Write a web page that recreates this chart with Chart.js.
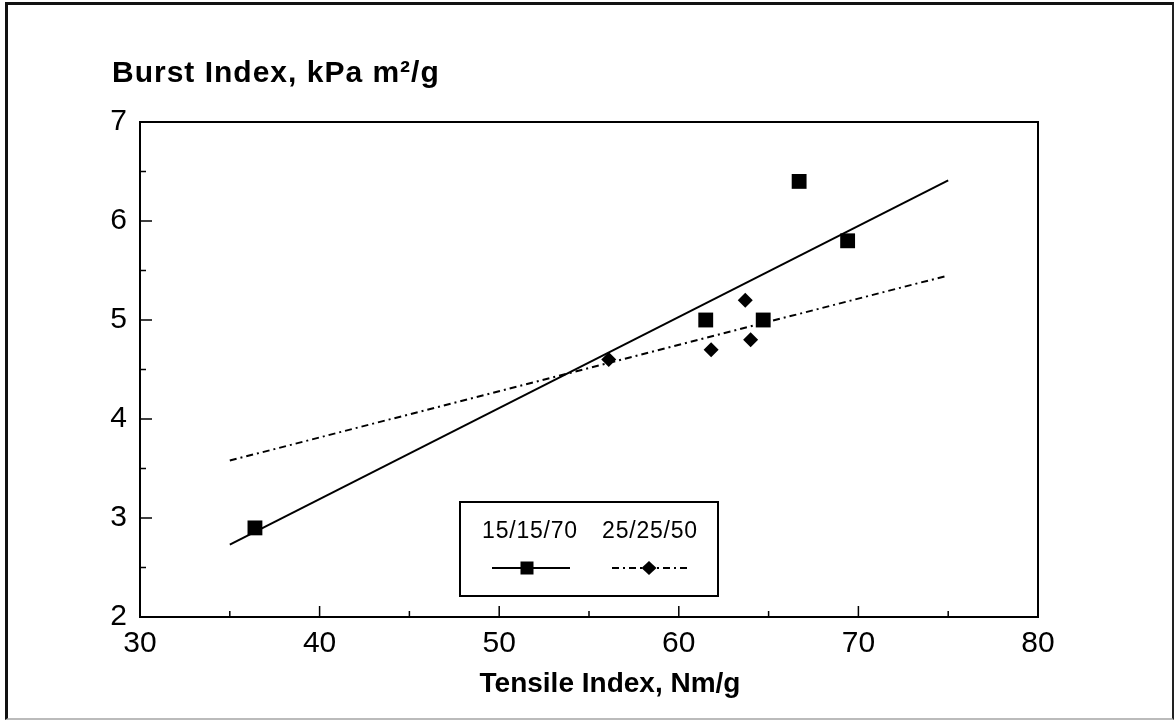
<!DOCTYPE html>
<html>
<head>
<meta charset="utf-8">
<script src="https://cdn.jsdelivr.net/npm/chart.js@4/dist/chart.umd.min.js"></script>
<style>
  html, body { margin: 0; padding: 0; background: #fff; }
  #frame {
    position: absolute; left: 5px; top: 2px; width: 1164px; height: 713px;
    border-top: 3px solid #111; border-left: 3px solid #111;
    border-right: 2px solid #222; border-bottom: 2px solid #bbb;
  }
  #chart { position: absolute; left: 0; top: 0; }
</style>
</head>
<body>
<div id="frame"></div>
<canvas id="chart" width="1174" height="720"></canvas>
<script>
// series
const seriesNames = ["15/15/70", "25/25/50"];
const tensileA = [36.4, 61.5, 64.7, 66.7, 69.4];
const burstA = [2.9, 5.0, 5.0, 6.4, 5.8];
const tensileB = [56.1, 61.8, 63.7, 64.0];
const burstB = [4.6, 4.7, 5.2, 4.8];

// fitted lines (end points)
const fitX = [35, 75];
const fitA = [2.73, 6.41];
const fitB = [3.58, 5.45];

// axes
const xTicks = [30, 40, 50, 60, 70, 80];
const yTicks = [2, 3, 4, 5, 6, 7];
const xTitle = "Tensile Index, Nm/g";
const yTitle = "Burst Index, kPa m²/g";

const FONT = "'Liberation Sans', Arial, sans-serif";
const DASH = [7, 4, 2, 4];

const pts = (xs, ys) => xs.map((x, i) => ({ x: x, y: ys[i] }));

// box round the plot, inward ticks, titles, legend
const decor = {
  id: "decor",
  afterDatasetsDraw: (chart) => {
    const ctx = chart.ctx;
    const a = chart.chartArea;
    const xs = chart.scales.x;
    const ys = chart.scales.y;
    ctx.save();
    ctx.strokeStyle = "#000";
    ctx.lineWidth = 2;
    ctx.strokeRect(a.left, a.top, a.right - a.left, a.bottom - a.top);

    ctx.lineWidth = 1.5;
    ctx.beginPath();
    xs.ticks.forEach((t) => {
      const px = xs.getPixelForValue(t.value);
      const len = xTicks.includes(t.value) ? 11 : 6;
      ctx.moveTo(px, a.bottom);
      ctx.lineTo(px, a.bottom - len);
    });
    ys.ticks.forEach((t) => {
      const py = ys.getPixelForValue(t.value);
      const len = yTicks.includes(t.value) ? 12 : 6;
      ctx.moveTo(a.left, py);
      ctx.lineTo(a.left + len, py);
    });
    ctx.stroke();

    // titles
    ctx.fillStyle = "#000";
    ctx.textBaseline = "alphabetic";
    ctx.font = "bold 30px " + FONT;
    ctx.letterSpacing = "1px";
    ctx.textAlign = "left";
    ctx.fillText(yTitle, 112, 82);
    ctx.letterSpacing = "0px";
    ctx.font = "bold 28px " + FONT;
    ctx.textAlign = "center";
    ctx.fillText(xTitle, (a.left + a.right) / 2 + 21, 692);

    // legend
    ctx.lineWidth = 2;
    ctx.strokeRect(460, 502, 258, 94);
    ctx.font = "23px " + FONT;
    ctx.letterSpacing = "0.8px";
    ctx.fillText(seriesNames[0], 530, 538);
    ctx.fillText(seriesNames[1], 650, 538);
    ctx.letterSpacing = "0px";

    ctx.beginPath();
    ctx.moveTo(492, 568);
    ctx.lineTo(570, 568);
    ctx.stroke();
    ctx.fillRect(527 - 6.5, 568 - 6.5, 13, 13);

    ctx.setLineDash(DASH);
    ctx.beginPath();
    ctx.moveTo(612, 568);
    ctx.lineTo(689, 568);
    ctx.stroke();
    ctx.setLineDash([]);
    ctx.beginPath();
    ctx.moveTo(649, 561);
    ctx.lineTo(656.5, 568);
    ctx.lineTo(649, 575);
    ctx.lineTo(641.5, 568);
    ctx.closePath();
    ctx.fill();
    ctx.restore();
  },
};

new Chart(document.getElementById("chart").getContext("2d"), {
  type: "scatter",
  data: {
    datasets: [
      {
        label: seriesNames[0] + " fit",
        type: "line",
        data: pts(fitX, fitA),
        borderColor: "#000",
        borderWidth: 2,
        pointRadius: 0,
        fill: false,
      },
      {
        label: seriesNames[1] + " fit",
        type: "line",
        data: pts(fitX, fitB),
        borderColor: "#000",
        borderWidth: 2,
        borderDash: DASH,
        pointRadius: 0,
        fill: false,
      },
      {
        label: seriesNames[0],
        data: pts(tensileA, burstA),
        pointStyle: "rect",
        pointRadius: 10.5,
        backgroundColor: "#000",
        borderColor: "#000",
        borderWidth: 0,
      },
      {
        label: seriesNames[1],
        data: pts(tensileB, burstB),
        pointStyle: "rectRot",
        pointRadius: 7.5,
        backgroundColor: "#000",
        borderColor: "#000",
        borderWidth: 0,
      },
    ],
  },
  options: {
    responsive: false,
    animation: false,
    layout: { padding: { left: 0, top: 122, right: 136, bottom: 0 } },
    plugins: {
      legend: { display: false },
      tooltip: { enabled: false },
    },
    scales: {
      x: {
        type: "linear",
        min: 30,
        max: 80,
        afterFit: (s) => { s.height = 103; },
        grid: { display: false, drawTicks: false },
        border: { display: false },
        ticks: {
          stepSize: 5,
          padding: 9,
          color: "#000",
          font: { family: FONT, size: 30 },
          callback: (v) => (xTicks.includes(v) ? String(v) : ""),
        },
      },
      y: {
        type: "linear",
        min: 2,
        max: 7,
        afterFit: (s) => { s.width = 140; },
        grid: { display: false, drawTicks: false },
        border: { display: false },
        ticks: {
          stepSize: 0.5,
          padding: 13,
          color: "#000",
          font: { family: FONT, size: 30 },
          callback: (v) => (yTicks.includes(v) ? String(v) : ""),
        },
      },
    },
  },
  plugins: [decor],
});
</script>
</body>
</html>
